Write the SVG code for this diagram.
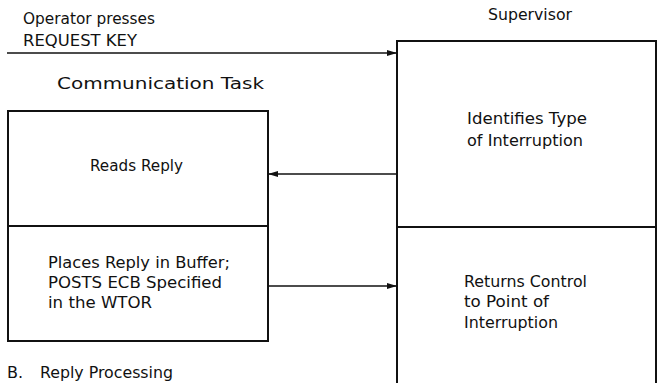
<svg xmlns="http://www.w3.org/2000/svg" width="657" height="383" viewBox="0 0 657 383">
  <style>
    text { font-family: "DejaVu Sans", "Liberation Sans", sans-serif; font-size: 15px; fill: #111; }
    .big { font-size: 16px; }
    .box { fill: none; stroke: #111; stroke-width: 2; }
    .conn { fill: none; stroke: #111; stroke-width: 1.3; }
  </style>
  <defs>
    <marker id="arrow" viewBox="0 0 10 6" refX="10" refY="3" markerWidth="10" markerHeight="6" markerUnits="userSpaceOnUse" orient="auto">
      <path d="M0,0 L10,3 L0,6 Z" fill="#111"/>
    </marker>
  </defs>

  <rect width="657" height="383" fill="#fff"/>

  <!-- Captions -->
  <text x="23" y="24" textLength="132" lengthAdjust="spacingAndGlyphs">Operator presses</text>
  <text x="23" y="46" textLength="114" lengthAdjust="spacingAndGlyphs">REQUEST KEY</text>
  <text class="big" x="57" y="89" textLength="207" lengthAdjust="spacingAndGlyphs">Communication Task</text>
  <text x="488" y="20" textLength="84" lengthAdjust="spacingAndGlyphs">Supervisor</text>
  <text class="big" x="7" y="378">B<tspan x="18">.</tspan><tspan x="40" textLength="133" lengthAdjust="spacingAndGlyphs">Reply Processing</tspan></text>

  <!-- Communication task box -->
  <g id="comm-read">
    <rect class="box" x="8" y="111" width="260" height="115"/>
    <text x="90" y="171" textLength="93" lengthAdjust="spacingAndGlyphs">Reads Reply</text>
  </g>
  <g id="comm-post">
    <rect class="box" x="8" y="226" width="260" height="115"/>
    <text x="48" y="268" textLength="182" lengthAdjust="spacingAndGlyphs">Places Reply in Buffer;</text>
    <text x="48" y="288" textLength="174" lengthAdjust="spacingAndGlyphs">POSTS ECB Specified</text>
    <text x="48" y="308" textLength="104" lengthAdjust="spacingAndGlyphs">in the WTOR</text>
  </g>

  <!-- Supervisor box -->
  <g id="sup-identify">
    <rect class="box" x="397" y="41" width="259" height="186"/>
    <text x="467" y="124" textLength="120" lengthAdjust="spacingAndGlyphs">Identifies Type</text>
    <text x="467" y="146" textLength="116" lengthAdjust="spacingAndGlyphs">of Interruption</text>
  </g>
  <g id="sup-return">
    <path class="box" d="M397,227 V384 M656,227 V384"/>
    <text x="464" y="287" textLength="123" lengthAdjust="spacingAndGlyphs">Returns Control</text>
    <text x="464" y="307" textLength="85" lengthAdjust="spacingAndGlyphs">to Point of</text>
    <text x="464" y="328" textLength="94" lengthAdjust="spacingAndGlyphs">Interruption</text>
  </g>

  <!-- Connectors -->
  <g id="connectors">
    <line class="conn" x1="7" y1="53" x2="397" y2="53" marker-end="url(#arrow)"/>
    <line class="conn" x1="397" y1="174" x2="268" y2="174" marker-end="url(#arrow)"/>
    <line class="conn" x1="268" y1="286" x2="397" y2="286" marker-end="url(#arrow)"/>
  </g>
</svg>
